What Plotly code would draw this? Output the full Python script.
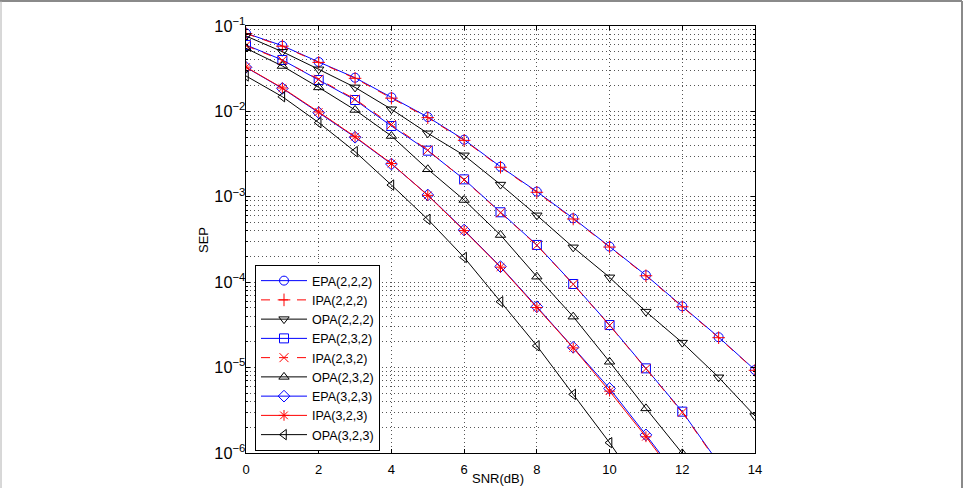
import plotly.graph_objects as go

snr = list(range(0, 15))

epa_222 = [0.0822, 0.0588, 0.0379, 0.0248, 0.0146, 0.00859, 0.00466, 0.00225, 0.00115, 5.6e-4, 2.61e-4, 1.205e-4, 5.22e-5, 2.27e-5, 9.38e-6]
ipa_222 = [0.0815, 0.0580, 0.0375, 0.0244, 0.0143, 0.00845, 0.00458, 0.00222, 0.00113, 5.5e-4, 2.58e-4, 1.19e-4, 5.15e-5, 2.24e-5, 9.3e-6]
opa_222 = [0.0763, 0.0500, 0.0311, 0.0191, 0.0106, 0.00554, 0.00306, 0.00139, 6.07e-4, 2.56e-4, 1.14e-4, 4.52e-5, 1.96e-5, 7.7e-6, 2.71e-6]

epa_232 = [0.0600, 0.0400, 0.0233, 0.0136, 0.00675, 0.00347, 0.00160, 6.59e-4, 2.73e-4, 9.53e-5, 3.15e-5, 9.8e-6, 3.05e-6, 7.6e-7]
ipa_232 = [0.0590, 0.0395, 0.0238, 0.0139, 0.00700, 0.00352, 0.00158, 6.5e-4, 2.70e-4, 9.45e-5, 3.12e-5, 9.7e-6, 3.0e-6, 7.4e-7]
opa_232 = [0.0548, 0.0340, 0.0191, 0.0104, 0.00515, 0.00210, 9.18e-4, 3.57e-4, 1.16e-4, 3.95e-5, 1.17e-5, 3.33e-6, 9.9e-7, 2.5e-7]

epa_323 = [0.0328, 0.0186, 0.00966, 0.00498, 0.00242, 0.00105, 4.08e-4, 1.52e-4, 5.16e-5, 1.73e-5, 5.7e-6, 1.63e-6, 4.5e-7]
ipa_323 = [0.0330, 0.0188, 0.00985, 0.00505, 0.00245, 0.00104, 4.02e-4, 1.50e-4, 5.05e-5, 1.70e-5, 5.3e-6, 1.55e-6, 4.2e-7]
opa_323 = [0.0260, 0.01486, 0.00738, 0.00338, 0.001374, 5.45e-4, 1.95e-4, 5.91e-5, 1.80e-5, 4.86e-6, 1.32e-6, 3.2e-7]

names = ["EPA(2,2,2)", "IPA(2,2,2)", "OPA(2,2,2)",
         "EPA(2,3,2)", "IPA(2,3,2)", "OPA(2,3,2)",
         "EPA(3,2,3)", "IPA(3,2,3)", "OPA(3,2,3)"]
series = [epa_222, ipa_222, opa_222, epa_232, ipa_232, opa_232, epa_323, ipa_323, opa_323]
x_ticks = [0, 2, 4, 6, 8, 10, 12, 14]

BLUE = "#0000ff"
RED = "#ff0000"
BLACK = "#000000"
styles = [
    (BLUE, "solid", "circle-open"),
    (RED, "dash", "cross-thin-open"),
    (BLACK, "solid", "triangle-down-open"),
    (BLUE, "solid", "square-open"),
    (RED, "dash", "x-thin-open"),
    (BLACK, "solid", "triangle-up-open"),
    (BLUE, "solid", "diamond-open"),
    (RED, "solid", "asterisk-open"),
    (BLACK, "solid", "triangle-left-open"),
]

fig = go.Figure()
for name, ys, (col, dash, sym) in zip(names, series, styles):
    fig.add_trace(go.Scatter(
        x=snr[:len(ys)], y=ys, name=name, mode="lines+markers",
        line=dict(color=col, width=1, dash=dash),
        marker=dict(symbol=sym, size=9, color=col, line=dict(color=col, width=1)),
        cliponaxis=True,
    ))

W, H = 968, 488
L, R, T, B = 246, 755, 26, 453
pw, ph = R - L, B - T

def px(x):
    return (x - L) / pw

def py(y):
    return (B - y) / ph

# outer frame of the figure
fig.add_shape(type="line", xref="paper", yref="paper",
              x0=px(0), x1=px(962), y0=py(1), y1=py(1),
              line=dict(color="#8a8a8a", width=2), layer="below")
fig.add_shape(type="line", xref="paper", yref="paper",
              x0=px(962), x1=px(962), y0=py(1), y1=py(495),
              line=dict(color="#8a8a8a", width=2), layer="below")
fig.add_shape(type="line", xref="paper", yref="paper",
              x0=px(1), x1=px(1), y0=py(1), y1=py(495),
              line=dict(color="#b0b0b0", width=1), layer="below")

FAM = "Liberation Sans, Arial, Helvetica, sans-serif"
font = dict(family=FAM, size=12, color="black")
legfont = dict(family=FAM, size=12.5, color="black")
GRID = "#555555"
GDASH = "1px,3px"

fig.update_layout(
    width=W, height=H,
    margin=dict(l=L, r=W - R, t=T, b=H - B, pad=0, autoexpand=False),
    paper_bgcolor="white", plot_bgcolor="white",
    font=font,
    showlegend=True,
    legend=dict(x=px(255), y=py(265), xanchor="left", yanchor="top",
                bgcolor="white", bordercolor="black", borderwidth=1,
                font=legfont, tracegroupgap=0, itemwidth=46),
    xaxis=dict(
        range=[0, 14], tickmode="array", tickvals=x_ticks,
        ticks="inside", ticklen=4, tickcolor="black",
        showline=True, linecolor="black", linewidth=1, mirror="ticks",
        showgrid=True, gridcolor=GRID, griddash=GDASH, gridwidth=1,
        zeroline=False, ticklabelstandoff=4, automargin=False,
        tickfont=dict(family=FAM, size=13, color="black"),
    ),
    yaxis=dict(
        type="log", range=[-6, -1], dtick=1, exponentformat="power",
        ticks="inside", ticklen=4, tickcolor="black",
        showline=True, linecolor="black", linewidth=1, mirror="ticks",
        showgrid=True, gridcolor=GRID, griddash=GDASH, gridwidth=1,
        zeroline=False, ticklabelstandoff=-3, automargin=False,
        minor=dict(dtick="D1", ticks="inside", ticklen=2, tickcolor="black",
                   showgrid=True, gridcolor=GRID, griddash=GDASH, gridwidth=1),
        tickfont=dict(family=FAM, size=13, color="black"),
    ),
    annotations=[
        dict(text="SNR(dB)", xref="paper", yref="paper", x=px(498), y=py(478.5),
             xanchor="center", yanchor="middle", showarrow=False, borderpad=0,
             font=dict(family=FAM, size=13, color="black")),
        dict(text="SEP", xref="paper", yref="paper", x=px(203), y=py(240),
             xanchor="center", yanchor="middle", showarrow=False, textangle=-90,
             font=dict(family=FAM, size=13, color="black")),
    ],
)

fig.write_html("out.html")
